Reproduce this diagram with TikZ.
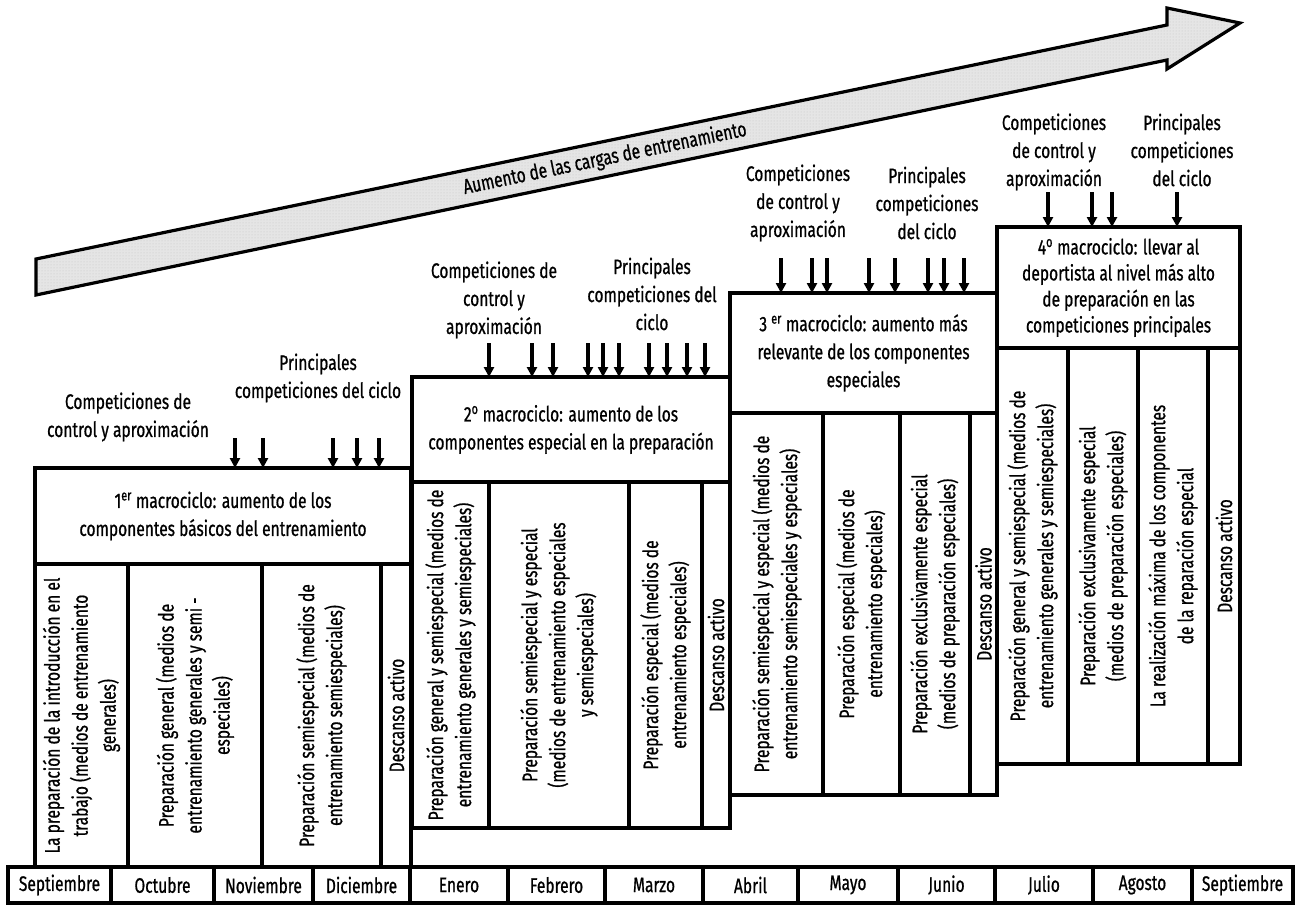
\documentclass[tikz,border=0pt]{standalone}
\usepackage{fontspec}
\setmainfont{Fira Sans}[FakeStretch=0.74, FakeBold=0.8]
\usetikzlibrary{arrows.meta,patterns}
\newcommand\basefont{\fontsize{21}{28}\selectfont}
\newcommand\tightfont{\fontsize{21}{26}\selectfont}
\begin{document}
\begin{tikzpicture}[x=1pt,y=-1pt,
  every node/.style={font=\basefont, inner sep=0pt, outer sep=0pt, align=center},
  frame/.style={draw, line width=3.2pt},
  colbox/.style={frame, rotate=90},
  comp/.style={line width=3.4pt, -{Triangle[width=10pt,length=10pt]}},
  month/.style={frame, minimum height=36pt},
]
\useasboundingbox (0,0) rectangle (1297,904);

% rising training-load arrow: light stippled band
\draw[line width=3.2pt, line join=miter,
  preaction={left color=gray!20, middle color=white, right color=gray!20},
  pattern=dots, pattern color=gray!45]
  (36,259) -- (1167,25) -- (1167,8) -- (1240,23) -- (1167,69) -- (1167,60) -- (36,295) -- cycle;
\node[rotate=11.7] (load) at (605,159) {Aumento de las cargas de entrenamiento};

% months
\foreach \a/\b/\m [count=\i] in {8/111/Septiembre,111/214/Octubre,214/313/Noviembre,313/410/Diciembre,410/508/Enero,508/605/Febrero,605/703/Marzo,703/798/Abril,798/898/Mayo,898/995/Junio,995/1093/Julio,1093/1192/Agosto,1192/1293/Septiembre}
  \node[month, minimum width={(\b-\a)*1pt}] (mes\i) at ({(\a+\b)/2},885) {\m};

% macrocycle 1
\node[frame, minimum width=376pt, minimum height=96pt] (m1) at (223,516) {1\textsuperscript{er} macrociclo: aumento de los\\componentes básicos del entrenamiento};
\node[colbox, minimum width=303pt, minimum height=93pt] (m1a) at (81.5,715.5) {La preparación de la introducción en el\\trabajo (medios de entrenamiento\\generales)};
\node[colbox, minimum width=303pt, minimum height=134pt] (m1b) at (195,715.5) {Preparación general (medios de\\entrenamiento generales y semi -\\especiales)};
\node[colbox, minimum width=303pt, minimum height=119pt] (m1c) at (321.5,715.5) {Preparación semiespecial (medios de\\entrenamiento semiespeciales)};
\node[colbox, minimum width=303pt, minimum height=30pt] (m1d) at (396,715.5) {Descanso activo};
\node (c1a) at (128,417) {Competiciones de\\control y aproximación};
\node (c1b) at (318,378) {Principales\\competiciones del ciclo};
\foreach \x in {235,263,333,357,379} \draw[comp] (\x,438) -- (\x,0 |- m1.north);

% macrocycle 2
\node[frame, minimum width=318pt, minimum height=105pt] (m2) at (571,429.5) {2\textsuperscript{o} macrociclo: aumento de los\\componentes especial en la preparación};
\node[colbox, minimum width=346pt, minimum height=77pt] (m2a) at (450.5,655) {Preparación general y semiespecial (medios de\\entrenamiento generales y semiespeciales)};
\node[colbox, minimum width=346pt, minimum height=140pt] (m2b) at (559,655) {Preparación semiespecial y especial\\(medios de entrenamiento especiales\\y semiespeciales)};
\node[colbox, minimum width=346pt, minimum height=73pt] (m2c) at (665.5,655) {Preparación especial (medios de\\entrenamiento especiales)};
\node[colbox, minimum width=346pt, minimum height=28pt] (m2d) at (716,655) {Descanso activo};
\node (c2a) at (494,300) {Competiciones de\\control y\\aproximación};
\node (c2b) at (652,294) {Principales\\competiciones del\\ciclo};
\foreach \x in {489,532,553,588,603,619,649,667,687,705} \draw[comp] (\x,343) -- (\x,0 |- m2.north);

% macrocycle 3
\node[frame, minimum width=267pt, minimum height=120pt] (m3) at (863.5,353) {3 \textsuperscript{er} macrociclo: aumento más\\relevante de los componentes\\especiales};
\node[colbox, minimum width=382pt, minimum height=93pt] (m3a) at (776.5,604) {Preparación semiespecial y especial (medios de\\entrenamiento semiespeciales y especiales)};
\node[colbox, minimum width=382pt, minimum height=77pt] (m3b) at (861.5,604) {Preparación especial (medios de\\entrenamiento especiales)};
\node[colbox, minimum width=382pt, minimum height=70pt] (m3c) at (935,604) {Preparación exclusivamente especial\\(medios de preparación especiales)};
\node[colbox, minimum width=382pt, minimum height=27pt] (m3d) at (983.5,604) {Descanso activo};
\node (c3a) at (798,203) {Competiciones\\de control y\\aproximación};
\node (c3b) at (927,203) {Principales\\competiciones\\del ciclo};
\foreach \x in {781,812,827,869,895,928,944,964} \draw[comp] (\x,258) -- (\x,0 |- m3.north);

% macrocycle 4
\node[frame, minimum width=243pt, minimum height=121pt, font=\tightfont] (m4) at (1118.5,287.5) {4\textsuperscript{o} macrociclo: llevar al\\deportista al nivel más alto\\de preparación en las\\competiciones principales};
\node[colbox, minimum width=416pt, minimum height=71pt] (m4a) at (1032.5,556) {Preparación general y semiespecial (medios de\\entrenamiento generales y semiespeciales)};
\node[colbox, minimum width=416pt, minimum height=70pt] (m4b) at (1103,556) {Preparación exclusivamente especial\\(medios de preparación especiales)};
\node[colbox, minimum width=416pt, minimum height=70pt] (m4c) at (1173,556) {La realización máxima de los componentes\\de la reparación especial};
\node[colbox, minimum width=416pt, minimum height=32pt] (m4d) at (1224,556) {Descanso activo};
\node (c4a) at (1054,152) {Competiciones\\de control y\\aproximación};
\node (c4b) at (1182,150) {Principales\\competiciones\\del ciclo};
\foreach \x in {1048,1092,1112,1177} \draw[comp] (\x,192) -- (\x,0 |- m4.north);
\end{tikzpicture}
\end{document}
